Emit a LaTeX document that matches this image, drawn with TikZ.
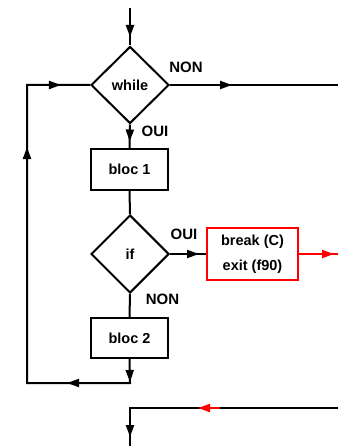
\documentclass[tikz,border=0pt]{standalone}
\usepackage{fontspec}
\setmainfont{Liberation Sans}
\usetikzlibrary{shapes.geometric,arrows.meta,decorations.markings}
\tikzset{
  line/.style={line width=2pt},
  tipmark/.style={postaction={decorate},decoration={markings,
     mark=at position #1 with {\arrow{Triangle[length=12pt,width=8pt]}}}},
  fourtips/.style n args={4}{postaction={decorate},decoration={markings,
     mark=at position #1 with {\arrow{Triangle[length=12pt,width=8pt]}},
     mark=at position #2 with {\arrow{Triangle[length=12pt,width=8pt]}},
     mark=at position #3 with {\arrow{Triangle[length=12pt,width=8pt]}},
     mark=at position #4 with {\arrow{Triangle[length=12pt,width=8pt]}}}},
  losange/.style={diamond,draw,line width=2pt,inner sep=0pt,minimum width=78pt,minimum height=77pt,
     font=\fontsize{14.5}{16}\selectfont\bfseries},
  bloc/.style={rectangle,draw,line width=2pt,inner sep=0pt,minimum width=77pt,minimum height=41pt,
     font=\fontsize{14.5}{16}\selectfont\bfseries},
  lab/.style={inner sep=0pt,font=\fontsize{15}{16}\selectfont\bfseries},
}
\begin{document}
\begin{tikzpicture}[x=1pt,y=-1pt]
\useasboundingbox (0,0) rectangle (338,446);
% nodes
\node[losange] (w) at (130,85) {while};
\node[bloc] (b1) at (129.5,169.5) {bloc 1};
\node[losange,minimum height=78pt] (if) at (130,254) {if};
\node[bloc,draw=red,minimum width=91pt,minimum height=52pt,align=center,
      font=\fontsize{14.5}{25}\selectfont\bfseries] (br) at (252.5,254) {break (C)\\exit (f90)};
\node[bloc,minimum height=40pt] (b2) at (129.5,338) {bloc 2};
% labels
\node[lab] (lnon1) at (186,67) {NON};
\node[lab] (loui1) at (155,131) {OUI};
\node[lab] (loui2) at (184,234) {OUI};
\node[lab] (lnon2) at (162.5,299.5) {NON};
% coordinates
\coordinate (top) at (130,8);
\coordinate (wout) at (338,85);
\coordinate (bl) at (130,383);
\coordinate (ll) at (27,383);
\coordinate (lt) at (27,85);
\coordinate (rout) at (338,254);
\coordinate (rin) at (338,408);
\coordinate (bc) at (130,408);
\coordinate (bend) at (130,446);
\coordinate (rs) at (220,408);
\coordinate (rt) at (198,408);
% connectors
\draw[line,tipmark=29pt] (top) -- (w.north);
\draw[line,tipmark=17pt] (w.south) -- (b1.north);
\draw[line,tipmark=62pt] (w.east) -- (wout);
\draw[line] (b1.south) -- (if.north);
\draw[line,tipmark=29pt] (if.east) -- (br.west);
\draw[line,red,tipmark=35pt] (br.east) -- (rout);
\draw[line] (if.south) -- (b2.north);
\draw[line,fourtips={23pt}{87pt}{363pt}{459pt}] (b2.south) -- (bl) -- (ll) -- (lt) -- (w.west);
\draw[line,tipmark=237pt] (rin) -- (bc) -- (bend);
\draw[line,red,-{Triangle[length=12pt,width=8pt]}] (rs) -- (rt);
\end{tikzpicture}
\end{document}
